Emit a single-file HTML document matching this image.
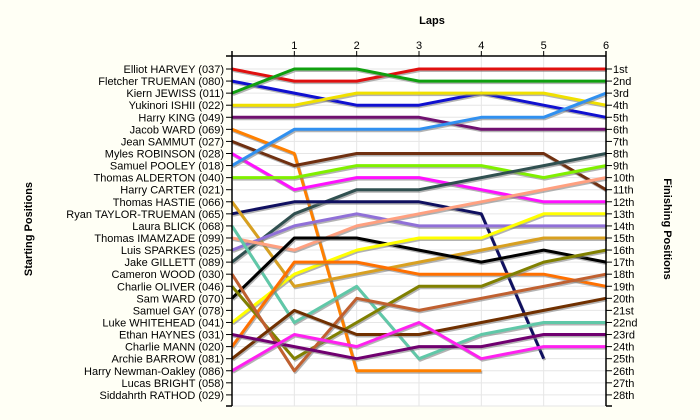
<!DOCTYPE html>
<html><head><meta charset="utf-8"><style>
html,body{margin:0;padding:0;background:#fffff5;}
svg{display:block;font-family:"Liberation Sans",sans-serif;}
</style></head><body>
<svg id="chart" width="700" height="420" viewBox="0 0 700 420">
<rect x="0" y="0" width="700" height="420" fill="#fffff5"/>
<rect x="232" y="56" width="374" height="350" fill="#ffffff"/>
<g id="grid"></g>
<g id="series"></g>
<g id="axes"></g>
<text x="432" y="24" font-size="11" font-weight="bold" text-anchor="middle">Laps</text>
<text transform="translate(32,229) rotate(-90)" font-size="11" font-weight="bold" text-anchor="middle">Starting Positions</text>
<text transform="translate(664,229) rotate(90)" font-size="11" font-weight="bold" text-anchor="middle">Finishing Positions</text>
</svg>
<script>
const drivers = ["Elliot HARVEY (037)","Fletcher TRUEMAN (080)","Kiern JEWISS (011)","Yukinori ISHII (022)","Harry KING (049)","Jacob WARD (069)","Jean SAMMUT (027)","Myles ROBINSON (028)","Samuel POOLEY (018)","Thomas ALDERTON (040)","Harry CARTER (021)","Thomas HASTIE (066)","Ryan TAYLOR-TRUEMAN (065)","Laura BLICK (068)","Thomas IMAMZADE (099)","Luis SPARKES (025)","Jake GILLETT (089)","Cameron WOOD (030)","Charlie OLIVER (046)","Sam WARD (070)","Samuel GAY (078)","Luke WHITEHEAD (041)","Ethan HAYNES (031)","Charlie MANN (020)","Archie BARROW (081)","Harry Newman-Oakley (086)","Lucas BRIGHT (058)","Siddahrth RATHOD (029)"];
const finishLabels = ["1st","2nd","3rd","4th","5th","6th","7th","8th","9th","10th","11th","12th","13th","14th","15th","16th","17th","18th","19th","20th","21st","22nd","23rd","24th","25th","26th","27th","28th"];
const laps = [1,2,3,4,5,6];
const seriesColors = ["#e01010","#1010d0","#10a010","#f0e000","#701070","#ff8000","#703010","#ff10ff","#3090f0","#80f000","#305050","#101060","#d8a020","#9070d8","#ffa080","#60c8a8","#000000","#ffff00","#ff7000","#808000","#c06030","#703000","#700070","#ff20f0"];
const positions = [
[1,2,2,1,1,1,1],
[2,3,4,4,3,4,5],
[3,1,1,2,2,2,2],
[4,4,3,3,3,3,4],
[5,5,5,5,6,6,6],
[6,8,26,26,26],
[7,9,8,8,8,8,11],
[8,11,10,10,11,12,12],
[9,6,6,6,5,5,3],
[10,10,9,9,9,10,9],
[17,13,11,11,10,9,8],
[13,12,12,12,13,25],
[12,19,18,17,16,15,15],
[16,14,13,14,14,14,14],
[15,16,14,13,12,11,10],
[14,22,19,25,23,22,22],
[20,15,15,16,17,16,17],
[22,18,16,15,15,13,13],
[24,17,17,18,18,18,19],
[19,25,22,19,19,17,16],
[18,26,20,21,20,19,18],
[25,21,23,23,22,21,20],
[23,24,25,24,24,23,23],
[26,23,24,22,25,24,24]
];
const NS="http://www.w3.org/2000/svg";
const X0=232,X1=606,Y0=69,DY=12.07,TOP=56,BOT=406;
const maxLap=6;
function xs(l){return X0+(X1-X0)*l/maxLap;}
function ys(p){return Y0+(p-1)*DY;}
function mk(t,a,parent){const e=document.createElementNS(NS,t);for(const k in a)e.setAttribute(k,a[k]);parent.appendChild(e);return e;}
const grid=document.getElementById('grid'),ser=document.getElementById('series'),ax=document.getElementById('axes');
for(let i=0;i<drivers.length;i++){
  const g=mk('line',{x1:X0,x2:X1,y1:ys(i+1),y2:ys(i+1),stroke:'#e6e6e6','stroke-width':1},grid);
  
  
}
const gb=mk('line',{x1:X0,x2:X1,y1:BOT,y2:BOT,stroke:'#e6e6e6','stroke-width':1},grid);


laps.forEach(l=>{
  const g=mk('line',{x1:xs(l),x2:xs(l),y1:TOP,y2:BOT,stroke:'#e6e6e6','stroke-width':1},grid);
  
  
});
positions.forEach((s,i)=>{
  const pts=s.map((p,l)=>xs(l).toFixed(1)+','+ys(p).toFixed(1)).join(' ');
  const sh=mk('polyline',{points:pts,fill:'none',stroke:'#808080','stroke-opacity':0.6,'stroke-width':3,transform:'translate(1,1.5)','stroke-linejoin':'round'},ser);
  
  
  const ln=mk('polyline',{points:pts,fill:'none',stroke:seriesColors[i],'stroke-width':3,'stroke-linejoin':'round'},ser);
  
  
});
mk('line',{x1:X0,x2:X0,y1:TOP-5,y2:BOT,stroke:'#000','stroke-width':1.5},ax);
mk('line',{x1:X1,x2:X1,y1:TOP-5,y2:BOT,stroke:'#000','stroke-width':1.5},ax);
mk('line',{x1:X0-6,x2:X1,y1:TOP,y2:TOP,stroke:'#000','stroke-width':1.5},ax);
mk('line',{x1:X0-6,x2:X0,y1:BOT,y2:BOT,stroke:'#000','stroke-width':1.5},ax);
mk('line',{x1:X1,x2:X1+6,y1:BOT,y2:BOT,stroke:'#000','stroke-width':1.5},ax);
laps.forEach(l=>{
  mk('line',{x1:xs(l),x2:xs(l),y1:TOP-5,y2:TOP,stroke:'#000','stroke-width':1},ax);
  const t=mk('text',{x:xs(l),y:TOP-7,'font-size':11,'text-anchor':'middle'},ax);
  t.textContent=l;
  
  
});
drivers.forEach((d,i)=>{
  const y=ys(i+1);
  mk('line',{x1:X0-6,x2:X0,y1:y,y2:y,stroke:'#000','stroke-width':1},ax);
  const t=mk('text',{x:X0-8,y:y+4,'font-size':11,'text-anchor':'end'},ax);
  t.textContent=d;
  
  
  mk('line',{x1:X1,x2:X1+6,y1:y,y2:y,stroke:'#000','stroke-width':1},ax);
  const f=mk('text',{x:X1+7,y:y+4,'font-size':11},ax);
  f.textContent=finishLabels[i];
  
  
});
</script>
</body></html>
